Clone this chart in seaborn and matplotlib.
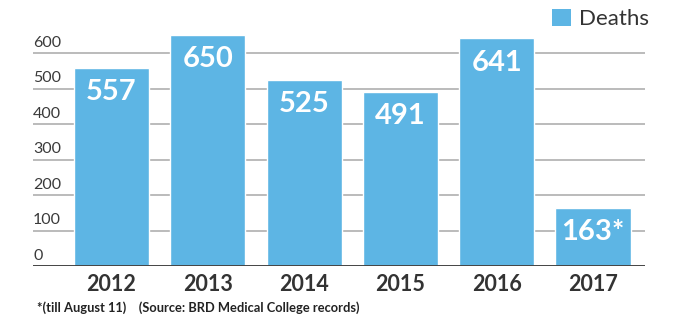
import matplotlib
matplotlib.use("Agg")
import matplotlib.pyplot as plt
import matplotlib.transforms as mtransforms
from matplotlib.patches import Patch
import seaborn as sns
import pandas as pd

years = ["2012", "2013", "2014", "2015", "2016", "2017"]
deaths = [557, 650, 525, 491, 641, 163]
value_suffix = ["", "", "", "", "", "*"]
y_ticks = [0, 100, 200, 300, 400, 500, 600]
series_name = "Deaths"
footnote = "*(till August 11)    (Source: BRD Medical College records)"

BAR = "#5DB5E4"
GRID = "#A8A8A8"
TEXT = "#333333"

sns.set_theme(style="white")
plt.rcParams["font.family"] = ["Lato", "DejaVu Sans"]

df = pd.DataFrame({"year": years, "deaths": deaths})

W, H = 682, 325
fig = plt.figure(figsize=(W / 100, H / 100), dpi=100)
ax = fig.add_axes([33 / W, (H - 266) / H, (645 - 33) / W, (266 - 17.5) / H])

sns.barplot(data=df, x="year", y="deaths", color=BAR, saturation=1,
            width=0.78, ax=ax, zorder=3)

ax.set_xlim(-0.815, 5.54)
ax.set_ylim(0, 700)

# horizontal rules behind the bars
for t in y_ticks[1:]:
    ax.axhline(t, color=GRID, lw=1.1, zorder=1)
ax.axhline(0, color="#444444", lw=1.4, zorder=4)

# y labels sit just above their rules, flush left
trans = mtransforms.blended_transform_factory(ax.transAxes, ax.transData)
for t in y_ticks:
    ax.text(0.0, t + 9, str(t), transform=trans, ha="left", va="bottom",
            fontsize=11.5, color="#3a3a3a")

ax.set_yticks([])
ax.set_xlabel("")
ax.set_ylabel("")
ax.tick_params(axis="x", length=0, pad=6)
for lbl in ax.get_xticklabels():
    lbl.set_fontsize(15.5)
    lbl.set_fontweight("bold")
    lbl.set_color(TEXT)
for s in ax.spines.values():
    s.set_visible(False)

# value labels inside the top of each bar
for bar, v, suf in zip(ax.patches, deaths, value_suffix):
    ax.text(bar.get_x() + bar.get_width() / 2, v - 68, f"{v}{suf}",
            ha="center", va="center", fontsize=21, fontweight="bold",
            color="white", zorder=5)

fig.legend(handles=[Patch(facecolor=BAR, edgecolor="none", label=series_name)],
           loc="center right", bbox_to_anchor=(660 / W, 1 - 19 / H),
           frameon=False, fontsize=16, handlelength=0.85, handleheight=0.85,
           handletextpad=0.35, borderpad=0, labelcolor=TEXT)

fig.text(37 / W, 1 - 308 / H, footnote, fontsize=9.3, fontweight="bold",
         color="#222222", ha="left", va="center")

fig.savefig("out.png", dpi=100)
